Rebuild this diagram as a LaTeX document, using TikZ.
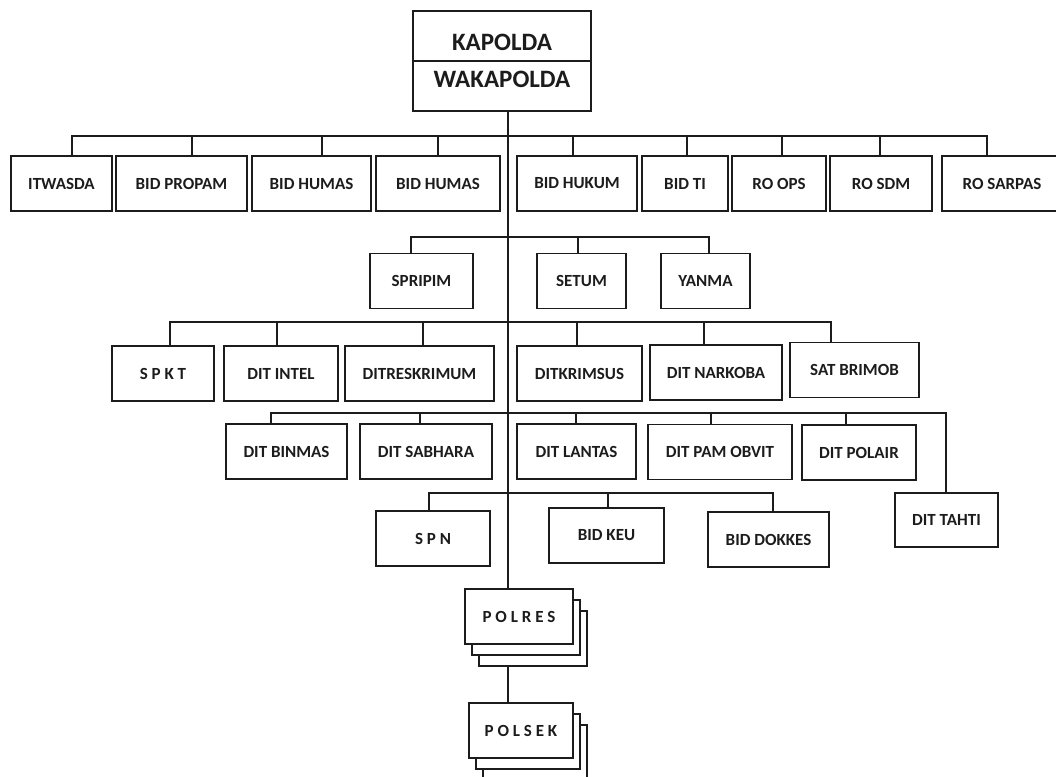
\documentclass[tikz,border=0pt]{standalone}
\usepackage{fontspec}
\setmainfont{Carlito}
\usetikzlibrary{positioning}
\definecolor{Ink}{HTML}{1C1C1C}
\tikzset{
  unitbox/.style={draw=Ink,fill=white,line width=1.5pt,minimum height=55,inner sep=0pt,outer sep=0pt,align=center,font=\fontsize{17}{19}\selectfont\bfseries,text=Ink},
  headbox/.style={unitbox,minimum width=178,minimum height=50,font=\fontsize{25}{28}\selectfont\bfseries},
  line/.style={draw=Ink,line width=1.3pt}
}

\begin{document}
\begin{tikzpicture}[x=1pt,y=-1pt]
  \useasboundingbox (0,0) rectangle (1056,776);
  \clip (0,0) rectangle (1056,776);
  % top
  \node[headbox,text height=30pt,text depth=0pt] (kapolda) at (502,36) {KAPOLDA};
  \node[headbox,text height=16pt,text depth=14pt,below=0pt of kapolda] (wakapolda) {WAKAPOLDA};
  \coordinate (trunk) at (508,0);
  \coordinate (busA) at (508,136);
  \coordinate (busB) at (508,237);
  \coordinate (busC) at (508,322);
  \coordinate (busD) at (508,413);
  \coordinate (busE) at (508,493);
  % row 1
  \node[unitbox,minimum width=101] (itwasda) at (61.5,183.5) {ITWASDA};
  \node[unitbox,minimum width=131] (propam) at (181.5,183.5) {BID PROPAM};
  \node[unitbox,minimum width=119] (humasA) at (311.5,183.5) {BID HUMAS};
  \node[unitbox,minimum width=124] (humasB) at (438,183.5) {BID HUMAS};
  \node[unitbox,minimum width=120] (hukum) at (577,183.5) {BID HUKUM};
  \node[unitbox,minimum width=86] (ti) at (685,183.5) {BID TI};
  \node[unitbox,minimum width=94] (ops) at (779,183.5) {RO OPS};
  \node[unitbox,minimum width=102] (sdm) at (881,183.5) {RO SDM};
  \node[unitbox,minimum width=120] (sarpas) at (1002,183.5) {RO SARPAS};
  % row 2
  \node[unitbox,minimum width=103] (spripim) at (421.5,281) {SPRIPIM};
  \node[unitbox,minimum width=89] (setum) at (581.5,281) {SETUM};
  \node[unitbox,minimum width=89] (yanma) at (705.5,281) {YANMA};
  % row 3
  \node[unitbox,minimum width=102] (spkt) at (163,373.5) {S P K T};
  \node[unitbox,minimum width=114] (intel) at (281,373.5) {DIT INTEL};
  \node[unitbox,minimum width=149] (reskrim) at (419.5,373.5) {DITRESKRIMUM};
  \node[unitbox,minimum width=125] (krimsus) at (579.5,373.5) {DITKRIMSUS};
  \node[unitbox,minimum width=132] (narkoba) at (716,372.5) {DIT NARKOBA};
  \node[unitbox,minimum width=129] (brimob) at (854.5,370) {SAT BRIMOB};
  % row 4
  \node[unitbox,minimum width=121] (binmas) at (286.5,451.5) {DIT BINMAS};
  \node[unitbox,minimum width=132] (sabhara) at (426,451.5) {DIT SABHARA};
  \node[unitbox,minimum width=119] (lantas) at (576.5,451.5) {DIT LANTAS};
  \node[unitbox,minimum width=144] (obvit) at (720,452) {DIT PAM OBVIT};
  \node[unitbox,minimum width=114] (polair) at (859,452.5) {DIT POLAIR};
  \node[unitbox,minimum width=103,minimum height=54] (tahti) at (946.5,520) {DIT TAHTI};
  % row 5
  \node[unitbox,minimum width=114] (spn) at (433,538.5) {S P N};
  \node[unitbox,minimum width=115] (keu) at (606.5,535.5) {BID KEU};
  \node[unitbox,minimum width=121] (dokkes) at (768.5,539.5) {BID DOKKES};
  % stacks
  \node[unitbox,minimum width=108] (polresC) at (533,638.5) {};
  \node[unitbox,minimum width=108] (polresB) at (526,627.5) {};
  \node[unitbox,minimum width=108] (polres) at (519,616.5) {P O L R E S};
  \node[unitbox,minimum width=104] (polsekC) at (535,752.5) {};
  \node[unitbox,minimum width=104] (polsekB) at (528,741.5) {};
  \node[unitbox,minimum width=104] (polsek) at (521,730.5) {P O L S E K};

  \draw[line] (wakapolda.south -| trunk) -- (polres.north -| trunk);
  \draw[line] (polresC.south -| trunk) -- (polsek.north -| trunk);
  \draw[line] (itwasda.north -| 72,0) |- (busA);
  \draw[line] (propam.north -| 192,0) |- (busA);
  \draw[line] (humasA.north -| 322,0) |- (busA);
  \draw[line] (humasB.north -| 438,0) |- (busA);
  \draw[line] (hukum.north -| 573,0) |- (busA);
  \draw[line] (ti.north -| 687,0) |- (busA);
  \draw[line] (ops.north -| 782,0) |- (busA);
  \draw[line] (sdm.north -| 880,0) |- (busA);
  \draw[line] (sarpas.north -| 987,0) |- (busA);
  \draw[line] (spripim.north -| 411,0) |- (busB);
  \draw[line] (setum.north -| 578,0) |- (busB);
  \draw[line] (yanma.north -| 709,0) |- (busB);
  \draw[line] (spkt.north -| 170,0) |- (busC);
  \draw[line] (intel.north -| 277,0) |- (busC);
  \draw[line] (reskrim.north -| 423,0) |- (busC);
  \draw[line] (krimsus.north -| 577,0) |- (busC);
  \draw[line] (narkoba.north -| 704,0) |- (busC);
  \draw[line] (brimob.north -| 831,0) |- (busC);
  \draw[line] (binmas.north -| 271,0) |- (busD);
  \draw[line] (sabhara.north -| 420,0) |- (busD);
  \draw[line] (lantas.north -| 576,0) |- (busD);
  \draw[line] (obvit.north -| 711,0) |- (busD);
  \draw[line] (polair.north -| 846,0) |- (busD);
  \draw[line] (tahti.north -| 946,0) |- (busD);
  \draw[line] (spn.north -| 429,0) |- (busE);
  \draw[line] (keu.north -| 608,0) |- (busE);
  \draw[line] (dokkes.north -| 773,0) |- (busE);
\end{tikzpicture}
\end{document}
